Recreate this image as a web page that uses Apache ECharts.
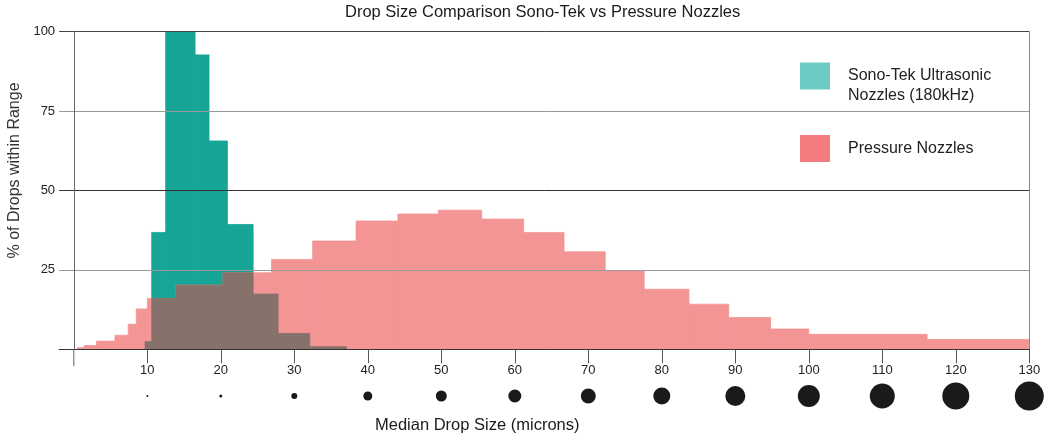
<!DOCTYPE html>
<html>
<head>
<meta charset="utf-8">
<script src="https://cdn.jsdelivr.net/npm/echarts@6/dist/echarts.min.js"></script>
<style>
html,body{margin:0;padding:0;background:#fff;}
#main{width:1057px;height:437px;}
</style>
</head>
<body>
<div id="main"></div>
<script>
// ---- data ----
const pinkEdges = [0.5, 1.4, 3.1, 5.6, 7.4, 8.5, 10.0, 13.9, 20.3, 26.9, 32.5, 38.4, 44.1, 49.6, 55.5, 61.2, 66.7, 72.3, 77.6, 83.7, 89.1, 94.8, 100.0, 116.1, 130];
const pinkValues = [0.5, 1.2, 2.6, 4.4, 7.9, 12.7, 16.0, 20.2, 24.1, 28.3, 34.1, 40.4, 42.6, 43.8, 41.0, 36.8, 30.7, 24.7, 18.9, 14.2, 10.0, 6.4, 4.7, 3.1];
const tealEdges = [9.7, 10.6, 12.5, 16.5, 18.4, 20.9, 24.4, 27.8, 32.1, 37.1];
const tealValues = [2.4, 36.8, 100, 92.7, 65.6, 39.3, 17.4, 5.0, 0.8];
const xTicks = [10, 20, 30, 40, 50, 60, 70, 80, 90, 100, 110, 120, 130];
const dotSizes = [2, 3, 6, 9, 11, 13, 15, 17, 20, 22, 25, 27, 29];
const yTicks = [25, 50, 75, 100];
const tealName = 'Sono-Tek Ultrasonic\nNozzles (180kHz)';
const pinkName = 'Pressure Nozzles';

// ---- build bins ----
function bins(edges, vals) {
  return vals.map((v, i) => [edges[i], edges[i + 1], v]);
}
const tealBins = bins(tealEdges, tealValues);
const pinkBins = bins(pinkEdges, pinkValues);
const overlapBins = [];
tealBins.forEach(t => {
  pinkBins.forEach(p => {
    const a = Math.max(t[0], p[0]), b = Math.min(t[1], p[1]);
    if (b > a) overlapBins.push([a, b, Math.min(t[2], p[2])]);
  });
});

function rectRender(color) {
  return function (params, api) {
    const p0 = api.coord([api.value(0), api.value(2)]);
    const p1 = api.coord([api.value(1), 0]);
    return {
      type: 'rect',
      shape: { x: p0[0], y: p0[1], width: p1[0] - p0[0], height: p1[1] - p0[1] },
      style: { fill: color, stroke: color, lineWidth: 0.8 }
    };
  };
}

const FONT = "'Liberation Sans', Arial, sans-serif";
const legendText = { fontFamily: FONT, fontSize: 16, color: '#222', lineHeight: 20, padding: [0, 0, 0, 13] };
const chart = echarts.init(document.getElementById('main'));
const option = {
  animation: false,
  backgroundColor: '#fff',
  title: [
    { text: 'Drop Size Comparison Sono-Tek vs Pressure Nozzles', left: 345, top: 4, padding: 0,
      textStyle: { fontFamily: FONT, fontSize: 16.5, fontWeight: 'normal', color: '#1a1a1a' } },
    { text: 'Median Drop Size (microns)', left: 375, top: 417, padding: 0,
      textStyle: { fontFamily: FONT, fontSize: 16.5, fontWeight: 'normal', color: '#1a1a1a' } }
  ],
  legend: [
    { orient: 'vertical', left: 800, top: 46, padding: 0, itemWidth: 30, itemHeight: 27,
      icon: 'rect', selectedMode: false, textStyle: legendText,
      formatter: n => '\n' + n,
      data: [{ name: tealName, itemStyle: { color: '#6ccac3' } }] },
    { orient: 'vertical', left: 800, top: 135, padding: 0, itemWidth: 30, itemHeight: 27,
      icon: 'rect', selectedMode: false, textStyle: legendText,
      data: [{ name: pinkName, itemStyle: { color: '#f37a7d' } }] }
  ],
  grid: [
    { left: 59.1, width: 970.2, top: 31.7, height: 317.6, outerBoundsMode: 'none', containLabel: false },
    { left: 59.1, width: 970.2, top: 380, height: 32, outerBoundsMode: 'none', containLabel: false }
  ],
  xAxis: [
    { type: 'value', gridIndex: 0, min: -2, max: 130, z: 10,
      axisLine: { show: true, onZero: true, lineStyle: { color: '#333', width: 1 } },
      axisTick: { show: true, customValues: xTicks, length: 14, lineStyle: { color: '#555' } },
      axisLabel: { customValues: xTicks, margin: 15, fontFamily: FONT, fontSize: 13, color: '#222' },
      splitLine: { show: false } },
    { type: 'value', gridIndex: 1, min: -2, max: 130, show: false }
  ],
  yAxis: [
    { type: 'value', gridIndex: 0, min: 0, max: 100, interval: 25, z: 10,
      name: '% of Drops within Range', nameLocation: 'middle', nameGap: 32,
      nameTextStyle: { fontFamily: FONT, fontSize: 16, color: '#333', padding: [0, 0, 0, 40] },
      axisLine: { show: true, onZero: true, lineStyle: { color: '#666' } },
      axisTick: { show: false },
      axisLabel: { customValues: yTicks, margin: 4, fontFamily: FONT, fontSize: 13, color: '#222' },
      splitLine: { show: true, lineStyle: { color: ['#444', '#999', '#333', '#999', '#444'], width: 1 } } },
    { type: 'value', gridIndex: 0, min: 0, max: 100, position: 'right', z: 10,
      axisLine: { show: true, onZero: false, lineStyle: { color: '#888' } },
      axisTick: { show: false }, axisLabel: { show: false }, splitLine: { show: false } },
    { type: 'value', gridIndex: 1, min: -1, max: 1, show: false }
  ],
  series: [
    { name: tealName, type: 'custom', xAxisIndex: 0, yAxisIndex: 0, z: 2,
      itemStyle: { color: '#16a597' }, renderItem: rectRender('#16a597'),
      encode: { x: [0, 1], y: 2 }, data: tealBins },
    { name: pinkName, type: 'custom', xAxisIndex: 0, yAxisIndex: 0, z: 3,
      itemStyle: { color: '#f39595' }, renderItem: rectRender('#f39595'),
      encode: { x: [0, 1], y: 2 }, data: pinkBins },
    { name: 'overlap', type: 'custom', xAxisIndex: 0, yAxisIndex: 0, z: 4,
      itemStyle: { color: '#87716b' }, renderItem: rectRender('#87716b'),
      encode: { x: [0, 1], y: 2 }, data: overlapBins },
    { name: 'dots', type: 'scatter', xAxisIndex: 1, yAxisIndex: 2,
      symbol: 'circle', itemStyle: { color: '#1a1a1a', opacity: 1 },
      symbolSize: (v, p) => dotSizes[p.dataIndex],
      data: xTicks.map(t => [t, 0]) }
  ]
};
chart.setOption(option);
const o = chart.convertToPixel({ xAxisIndex: 0, yAxisIndex: 0 }, [0, 0]);
chart.setOption({
  graphic: [{ type: 'line', z: 20, shape: { x1: o[0], y1: o[1], x2: o[0], y2: o[1] + 17 },
    style: { stroke: '#666', lineWidth: 1 } }]
});
</script>
</body>
</html>
